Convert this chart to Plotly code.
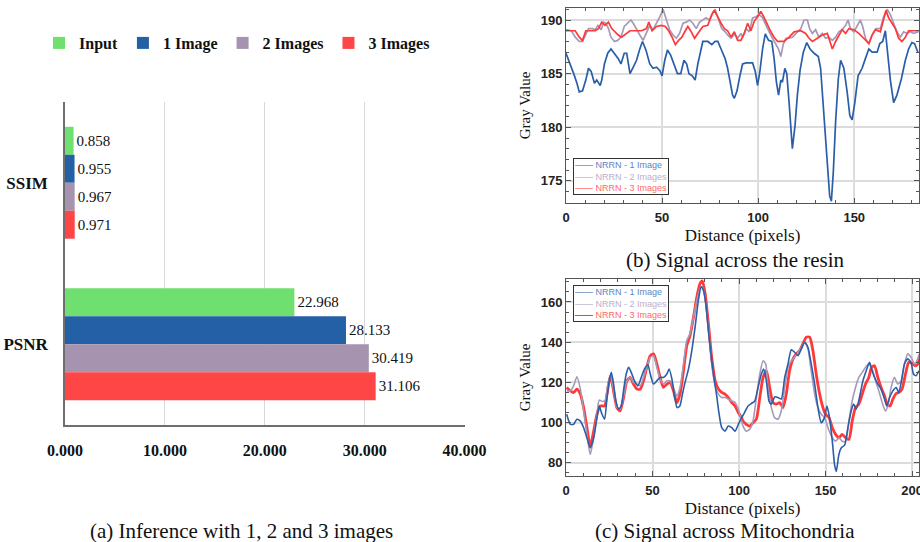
import plotly.graph_objects as go

# ---------------- (a) bar chart data ----------------
CATEGORIES = ["SSIM", "PSNR"]
SERIES = ["Input", "1 Image", "2 Images", "3 Images"]
SSIM_VALUES = [0.858, 0.955, 0.967, 0.971]
PSNR_VALUES = [22.968, 28.133, 30.419, 31.106]
BAR_COLORS = ["#6fdf6f", "#2360a5", "#a593b0", "#ff4646"]
BAR_X_TICKS = [0, 10, 20, 30, 40]

# ---------------- (b) signal across the resin ----------------
B1_X = [0, 2.2, 4, 5.7, 6.9, 8.6, 10.3, 11.7, 13.1, 14.8, 16, 17.8, 18.6, 20, 21.7, 23.4, 25.2, 27.2, 28.6,
        30.3, 31.6, 33.3, 35, 36.7, 38.4, 39.8, 41.6, 43.6, 45.3, 47.1, 48.8, 50, 51.4, 52.8, 54.5, 56.2,
        58, 59.7, 61.4, 62.8, 64, 65.7, 67.2, 68.6, 70.3, 71.2, 73.8, 75.9, 77.6, 79, 80.7, 82.8, 84.1,
        85.5, 86.7, 87.6, 89, 90.5, 91.9, 93.7, 97.1, 98.5, 99.7, 100.9, 102.3, 103.7, 105.4, 107.1,
        108.3, 109.5, 110.6, 111.8, 112.6, 113.9, 114.9, 116.1, 117, 117.8, 119.2, 120.4, 121.8, 123.5,
        125.3, 127, 129.1, 131.3, 132.5, 133.4, 134.8, 136, 137.2, 138.1, 139.1, 140.3, 141.7, 142.9,
        144.6, 146.3, 147.7, 148.9, 150.3, 152, 154.1, 155.8, 157.6, 159.3, 161.9, 163.3, 164.8, 166.2,
        167.6, 168.8, 170.5, 172.2, 174.5, 176.6, 178.3, 180, 181.4, 183.1]
B1_Y = [186.9, 185.9, 185, 184.1, 183.3, 183.4, 184.4, 185.5, 185.2, 184.1, 184.4, 183.9, 184.4, 185.9, 186.9,
        187.3, 186.9, 186.4, 185.9, 186.9, 186.9, 185, 185.6, 186.25, 187.3, 188, 187.2, 185.9, 185.5, 185.6,
        185.3, 184.8, 186.25, 187.2, 186.7, 185.9, 185, 185, 186.25, 185.9, 185, 184.8, 184.4, 185.9, 187.2,
        188, 188, 187.7, 188, 188, 187.3, 186.4, 185.5, 184.1, 183, 182.7, 183.4, 184.8, 185.9, 186, 186,
        185.2, 183.9, 185.2, 187.3, 188.7, 188.1, 188, 186.4, 184.2, 183, 184.4, 184.2, 185.5, 185, 182.3,
        179.5, 178, 180.2, 183, 185.3, 187, 187.9, 187.3, 186.9, 186.6, 185.5, 183.3, 179.5, 176.4, 173.6,
        173.1, 175.8, 180.5, 184.5, 186.25, 185.5, 183.3, 181.1, 180.7, 182.3, 184.8, 185.5, 186.4, 187.3,
        187, 187, 187.8, 188, 189, 186.7, 184.4, 182.3, 183, 184.5, 186.25, 187.3, 187.9, 187.8, 187]

B2_X = [0, 2.8, 4.8, 6.9, 8.6, 10.3, 11.7, 13.8, 15.2, 16.6, 18.3, 19.5, 20.7, 22.1, 23.4, 25.2, 26.9, 28.6,
        30.3, 32.1, 33.8, 35, 36.7, 38.4, 40.1, 41.9, 43.6, 45.3, 47.1, 48.8, 50.5, 52.2, 53.9, 55.7, 57.4,
        59.1, 60.9, 62.6, 64.3, 66, 67.8, 69.5, 71.2, 72.9, 74.6, 76.4, 77.6, 79.3, 81, 82.8, 84.1, 85.9,
        87.6, 89.3, 91, 91.9, 93.7, 95.4, 97.1, 98.8, 100.6, 102.3, 104, 105.7, 107.5, 109.2, 110.6, 111.8,
        113, 114.4, 116.1, 117.8, 119.6, 122.2, 123.9, 125.6, 126.8, 128.2, 129.9, 131.6, 133.4, 135.1,
        136.8, 138.6, 140.3, 142, 143.7, 145.5, 146.8, 148, 149.8, 151.5, 153.2, 154.4, 155.8, 157.6, 159.3,
        161.4, 163.6, 165.3, 167.1, 168.8, 170.5, 172.2, 174, 175.7, 177.4, 179.1, 180.9, 183.5]
B2_Y = [189.1, 189, 188.4, 188, 188, 188.75, 189.2, 189.2, 189.1, 189.5, 189.1, 189.8, 189.7, 189.2, 188.4,
        188, 188.1, 188.4, 189.4, 189.7, 190, 189.7, 189.1, 188.6, 188.1, 188.9, 189.5, 189.1, 189.7, 190.3,
        191, 190, 189.1, 188.6, 188.3, 188.75, 189.7, 189.8, 190, 189.7, 189.2, 189.8, 190, 190.2, 190,
        190.7, 191, 190, 189.2, 188.9, 188.6, 188.3, 188.7, 188.3, 188.75, 188.4, 189.2, 188.9, 190.2,
        190.3, 190.5, 190.2, 189.5, 188.9, 188.3, 187.7, 187.3, 186.6, 187.7, 188.3, 188.3, 188.4, 188.75,
        189.2, 190, 190, 189.2, 188.75, 189.1, 188.4, 188.75, 188.3, 188.4, 188.1, 188.4, 188.9, 189.1,
        189.5, 190, 189.2, 188.9, 189.5, 190, 189.4, 188.3, 187.8, 188.6, 189.2, 189.2, 190.3, 191, 190.5,
        189.7, 188.9, 188.4, 188.9, 188.75, 188.9, 188.75, 188.9]

B3_X = [0, 4.8, 6.9, 8.6, 10.3, 15.2, 16.9, 18.6, 20.3, 22.1, 23.8, 25.5, 27.2, 28.9, 31.6, 33.3, 39.3, 41.9,
        43.1, 44.8, 47.1, 49.7, 51.7, 53.4, 55.2, 56.9, 58.6, 60.3, 62.1, 63.4, 65.2, 66.9, 68.6, 71.2,
        73.8, 75.9, 77.2, 79, 80.7, 82.4, 84.1, 85.9, 87.6, 89.3, 91, 92.8, 94.5, 96.2, 98, 99.7, 101.4,
        103.2, 104.9, 106.6, 108.3, 110.1, 113.5, 116.1, 118.7, 122.2, 124.7, 126.5, 128.2, 130.8, 133.4,
        136, 138.6, 140.3, 142, 143.7, 145.5, 147.2, 149.8, 152.4, 154.9, 157.6, 159.3, 161, 163.6, 165.3,
        166.5, 167.9, 169.6, 171.4, 173.1, 174.8, 176.6, 178.3, 183.5]
B3_Y = [189, 189, 188.4, 188.1, 189, 189, 189.2, 189.8, 189.5, 189.8, 189.2, 188.9, 188.6, 188.4, 188.75,
        189, 189, 189.2, 189.8, 189, 189.4, 189.5, 189.4, 189, 188.4, 187.7, 188.1, 188.4, 189, 189.4,
        188.9, 188.3, 188.75, 189.4, 189.5, 190.5, 190.9, 190.2, 189.7, 189.2, 189, 188.4, 188.9, 188.1,
        188.1, 188.75, 189.7, 189, 189.9, 190.3, 190.8, 190.2, 189.5, 188.9, 188.4, 188, 188, 188.4, 188.9,
        189, 188.75, 188.3, 188, 188.3, 188.6, 188.75, 187.3, 188, 188.6, 189.1, 188.75, 189.2, 189.1,
        188.75, 188.3, 187.8, 188.6, 189.1, 188.9, 190.2, 190.9, 190.2, 189.7, 189.2, 188.3, 188, 188.4,
        189, 189]

# ---------------- (c) signal across mitochondria ----------------
C1_X = [0.4, 2.5, 4.4, 6.3, 8.3, 10.2, 12.1, 14, 16, 17.9, 19.2, 20.8, 22.3, 23.7, 25, 26.2, 27.5, 28.8, 30.4,
        31.9, 33.5, 34.8, 36.2, 37.7, 39.6, 41.5, 43.5, 45.4, 47.3, 48.7, 50.6, 52.5, 54.4, 56.3, 58.3, 59.6,
        61.2, 62.7, 64.2, 65.8, 67.3, 68.8, 70.8, 72.7, 74.6, 76.5, 78.1, 79.4, 80.8, 82.3, 84.2, 85.8, 87.1,
        88.5, 90, 91.9, 93.8, 95.8, 97.7, 99.6, 101.5, 102.7, 105.2, 107.1, 109.1, 111, 112.9, 114.2, 115.8,
        117.3, 118.7, 120.6, 122.5, 124.4, 126.4, 128.3, 130.2, 132.1, 134.1, 136, 137.9, 139.8, 141.7,
        143.7, 145.6, 147.5, 149.4, 150.8, 152.3, 153.9, 155.2, 156.2, 157.7, 159.1, 161, 162.9, 164.8,
        166.2, 167.7, 169.6, 171.6, 173.5, 175.4, 176.9, 178.3, 180.2, 182.1, 184.1, 185.4, 187, 188.9,
        190.8, 192.3, 193.9, 195.6, 197.5, 199.4, 200.8, 202.3, 203.9]
C1_Y = [104.2, 99.2, 99.2, 101.7, 100.8, 97.5, 92.5, 87.5, 92.5, 102.5, 108.3, 104.2, 101.7, 112.5, 120.8, 125,
        119.2, 110.8, 106.7, 108.3, 117.5, 124.2, 127.5, 125, 120.8, 118.3, 122.5, 126.7, 128.8, 124.2, 119.2,
        120.8, 122.5, 122.5, 124.2, 126.7, 121.7, 113.3, 107.5, 108.3, 114.2, 120, 126.7, 135.8, 147.5, 160.8,
        167.5, 165.8, 159.2, 145.8, 130.8, 120.8, 113.3, 104.2, 97.5, 95.8, 98.3, 97.5, 95.8, 99.2, 102.5,
        104.2, 108.3, 109.5, 110.8, 117.5, 124.2, 126.7, 120.8, 110.8, 109.2, 112.8, 112.5, 111.7, 122.5,
        129.2, 136.2, 135, 133.3, 136.7, 140, 137.5, 129.2, 119.2, 107.5, 100, 102.5, 108.3, 102.5, 90.8,
        79.2, 75.8, 84.2, 87.5, 88.8, 97.5, 105.8, 109.2, 106.7, 112.5, 120.8, 125.8, 130, 125.8, 122.5,
        119.2, 116.7, 111.7, 108.3, 112.5, 115.8, 117.5, 115, 120.8, 129.2, 131.7, 130, 124.2, 123.3, 125.8]

C2_X = [0.4, 2.5, 4.4, 6.3, 8.3, 10.2, 12.1, 14, 16, 17.9, 19.2, 21.2, 22.7, 24.2, 25.6, 27.5, 29.4, 31.3,
        33.3, 35.2, 37.1, 39, 41, 42.9, 44.8, 46.7, 48.7, 50.6, 52.5, 54.4, 56.3, 58.3, 60.2, 62.1, 64,
        65.9, 67.9, 69.8, 71.7, 73.7, 75.6, 77.5, 78.8, 80.4, 82.3, 84.2, 86.2, 88.1, 90, 91.9, 93.8, 95.8,
        97.7, 99.6, 101.5, 102.3, 104.2, 106.2, 108.1, 110, 112, 113.9, 115.4, 116.7, 118.7, 120.6, 122.5,
        124.4, 126.4, 128.3, 130.2, 132.1, 134.1, 136, 137.9, 139.8, 141.7, 143.7, 145.6, 147.5, 149.4,
        151.4, 153.9, 155.8, 157.7, 159.6, 161.6, 163.5, 165.4, 167.3, 169.2, 171.2, 173.1, 175, 176.9,
        178.9, 180.8, 182.7, 184.6, 186.2, 187.9, 189.8, 191.7, 193.7, 195.6, 197.5, 199.4, 201.4, 203.3, 204.2]
C2_Y = [115.8, 115.8, 118.3, 122.8, 116.7, 105.8, 94.2, 84.2, 92.5, 104.2, 111.2, 110.5, 111.2, 119.2, 123.3,
        116.7, 107.5, 106.7, 113.3, 120.8, 122.5, 120, 119.2, 118.3, 122.5, 127.5, 132.5, 133.3, 127.5, 121.7,
        119.2, 120.8, 120.8, 117.5, 113.3, 117.5, 129.2, 140.8, 144.2, 152.5, 160.8, 166.7, 167.5, 161.7,
        147.5, 129.2, 118.3, 114.2, 112.5, 112.5, 111.7, 110.8, 110, 106.7, 100.8, 98.3, 95.8, 96.7, 100.8,
        112.5, 124.2, 130.8, 129.2, 117.5, 107.5, 102.5, 101.7, 105.8, 117.5, 127.5, 130.8, 132.5, 135,
        137.5, 140, 136.7, 125.8, 114.2, 107.5, 104.2, 102.5, 97.5, 92.5, 90.8, 92.5, 90.8, 90.8, 100.8,
        110.8, 117.5, 122.5, 125, 127.5, 129.2, 126.7, 120.8, 115.8, 110, 105.8, 109.2, 117.5, 122.5, 119.2,
        120.8, 129.2, 134.2, 132.5, 129.2, 131.7, 134.2]

C3_X = [0.4, 2.5, 4.4, 6.3, 8.3, 10.2, 12.1, 14, 16, 17.9, 19.8, 22.3, 23.7, 25.6, 27.5, 29.4, 31.3, 33.3,
        35.2, 37.1, 39, 41, 42.9, 44.8, 46.7, 48.7, 50.6, 52.5, 54.4, 56.3, 58.3, 60.2, 62.1, 64, 65.9,
        67.9, 69.8, 71.7, 73.7, 75.6, 77.5, 78.8, 80.4, 82.3, 84.2, 86.2, 88.1, 90, 91.9, 93.8, 95.8, 97.7,
        99.6, 101.5, 102.3, 104.2, 106.2, 108.1, 110, 112, 113.9, 115.8, 117.7, 119.6, 121.6, 123.5, 125.4,
        127.3, 129.2, 131.2, 133.1, 135, 136.9, 138.9, 140.8, 142.7, 144.6, 146.6, 148.5, 150, 152, 153.9,
        155.8, 157.7, 159.6, 161.6, 163.5, 165.4, 167.3, 169.2, 171.2, 173.1, 175, 176.6, 178.3, 180.2,
        182.1, 184.1, 185.6, 187.3, 188.9, 190.8, 192.3, 194.2, 196.2, 198.1, 200, 201.9, 203.3, 204.2]
C3_Y = [117.5, 115.8, 115, 116.7, 114.2, 107.5, 97.5, 88.3, 95.8, 104.2, 108.3, 108.3, 114.2, 123.3, 115.8,
        107.5, 105.8, 112.5, 120.8, 122.5, 119.2, 116.7, 116.7, 120.8, 127.5, 133.3, 134.2, 129.2, 122.5,
        117.5, 119.2, 120, 115.8, 110, 114.2, 125.8, 138.3, 143.3, 152.5, 162.5, 169.2, 170.5, 164.2, 149.2,
        132.5, 120.8, 116.7, 115, 114.2, 112.5, 110, 108.3, 105, 102.5, 100.8, 99.2, 98.3, 100, 101.7, 112.5,
        122.5, 125.8, 117.5, 110, 109.2, 110, 107.5, 114.2, 125.8, 131.7, 134.2, 135.8, 139.2, 142.5, 142.5,
        135.8, 124.2, 114.2, 107.5, 104.2, 102.5, 97.5, 94.2, 92.5, 94.2, 92.5, 91.7, 100.8, 107.5, 109.2,
        114.2, 119.2, 122.5, 127.5, 128.3, 122.5, 117.5, 113.3, 109.2, 108.3, 111.7, 114.5, 115, 116.7,
        124.2, 130, 129.5, 128.3, 129.2, 133.3, 138.3]

LINE_NAMES = ["NRRN - 1 Image", "NRRN - 2 Images", "NRRN - 3 Images"]
LINE_COLORS = ["#2b5ea8", "#a898b8", "#ff3838"]
LEGEND_TEXT_COLORS = ["#5a86c4", "#bcaecb", "#ff6a6a"]

W, H = 920, 542
SERIF = "Liberation Serif"
SANS = "Liberation Sans"


def px(x):
    return x / W


def py(y):
    return 1 - y / H


fig = go.Figure()

# (a) bars
for name, s, p, c in zip(SERIES, SSIM_VALUES, PSNR_VALUES, BAR_COLORS):
    fig.add_trace(go.Bar(
        y=CATEGORIES, x=[s, p], orientation="h", name=name,
        marker=dict(color=c, line=dict(width=0)),
        texttemplate="%{x:.3f}", textposition="outside",
        textfont=dict(family=SERIF, size=15, color="#111"),
        cliponaxis=False, xaxis="x", yaxis="y",
    ))

# (b) lines
for xs, ys, n, c in zip([B1_X, B2_X, B3_X], [B1_Y, B2_Y, B3_Y], LINE_NAMES, LINE_COLORS):
    fig.add_trace(go.Scatter(x=xs, y=ys, mode="lines", name=n, showlegend=False,
                             line=dict(color=c, width=1.7), xaxis="x2", yaxis="y2"))

# (c) lines (red drawn first, thicker)
c_data = list(zip([C1_X, C2_X, C3_X], [C1_Y, C2_Y, C3_Y], LINE_NAMES, LINE_COLORS, [1.6, 1.6, 2.8]))
for xs, ys, n, c, w in reversed(c_data):
    fig.add_trace(go.Scatter(x=xs, y=ys, mode="lines", name=n, showlegend=False,
                             line=dict(color=c, width=w, shape="spline", smoothing=0.6),
                             xaxis="x3", yaxis="y3"))

line_axis_common = dict(
    showline=True, linecolor="#555", linewidth=1, mirror="ticks",
    ticks="inside", ticklen=5, tickcolor="#555", automargin=False,
    showgrid=True, gridcolor="#dcdcdc", gridwidth=1.5, zeroline=False,
    ticklabeloverflow="allow",
    tickfont=dict(family=SANS, size=13, color="#222", weight="bold"),
)
x_title_font = dict(family=SERIF, size=17, color="#111")
y_title_font = dict(family=SERIF, size=15, color="#111")

fig.update_layout(
    width=W, height=H, autosize=False,
    margin=dict(l=0, r=0, t=0, b=0, autoexpand=False),
    paper_bgcolor="white", plot_bgcolor="white",
    barmode="group", bargap=0.307, bargroupgap=0,
    showlegend=True,
    legend=dict(orientation="h", x=px(39), y=py(43), xanchor="left", yanchor="middle",
                font=dict(family=SERIF, size=16, color="#111", weight="bold"),
                bgcolor="rgba(0,0,0,0)"),
    xaxis=dict(domain=[px(65), px(465)], range=[0, 40.05], tickvals=BAR_X_TICKS,
               tickformat=".3f", showgrid=True, gridcolor="#d8d8d8", gridwidth=1,
               showline=True, linecolor="#6e6e6e", linewidth=1.5, zeroline=False,
               ticks="", ticklabelstandoff=10, anchor="y", automargin=False,
               tickfont=dict(family=SERIF, size=16, color="#111", weight="bold")),
    yaxis=dict(domain=[py(425), py(102)], categoryorder="array", categoryarray=CATEGORIES,
               autorange="reversed", showline=True, linecolor="#6e6e6e", linewidth=1.5,
               showgrid=False, ticks="", ticklabelstandoff=12, anchor="x", automargin=False,
               tickfont=dict(family=SERIF, size=17, color="#111", weight="bold")),
    xaxis2=dict(domain=[px(566), px(919)], range=[0, 183.7], dtick=50, anchor="y2",
                minor=dict(dtick=10, ticks="inside", ticklen=3, tickcolor="#555", showgrid=False),
                title=dict(text="Distance (pixels)", standoff=5, font=x_title_font),
                ticklabelstandoff=2, **line_axis_common),
    yaxis2=dict(domain=[py(203), py(8)], range=[172.94, 191.12], dtick=5, anchor="x2",
                minor=dict(dtick=1, ticks="inside", ticklen=3, tickcolor="#555", showgrid=False),
                title=dict(text="Gray Value", standoff=6, font=y_title_font),
                **line_axis_common),
    xaxis3=dict(domain=[px(566), px(919)], range=[0, 204], dtick=50, anchor="y3",
                minor=dict(dtick=10, ticks="inside", ticklen=3, tickcolor="#555", showgrid=False),
                title=dict(text="Distance (pixels)", standoff=5, font=x_title_font),
                ticklabelstandoff=2, **line_axis_common),
    yaxis3=dict(domain=[py(476), py(279)], range=[73.5, 171.4], dtick=20, anchor="x3",
                minor=dict(dtick=5, ticks="inside", ticklen=3, tickcolor="#555", showgrid=False),
                title=dict(text="Gray Value", standoff=6, font=y_title_font),
                **line_axis_common),
)


def legend_box_text(bold_last):
    rows = []
    for i, (n, lc, tc) in enumerate(zip(LINE_NAMES, LINE_COLORS, LEGEND_TEXT_COLORS)):
        dash = "——"
        if bold_last and i == 2:
            dash = "<b>——</b>"
        rows.append(f'<span style="color:{lc}">{dash}</span> <span style="color:{tc}">{n}</span>')
    return "<br>".join(rows)


caption_font = dict(family=SERIF, size=21, color="#111")
annotations = [
    dict(text=legend_box_text(False), x=px(573), y=py(158), xref="paper", yref="paper",
         xanchor="left", yanchor="top", align="left", showarrow=False,
         font=dict(family=SANS, size=9), bgcolor="white", bordercolor="#333",
         borderwidth=1, borderpad=1),
    dict(text=legend_box_text(True), x=px(573), y=py(285), xref="paper", yref="paper",
         xanchor="left", yanchor="top", align="left", showarrow=False,
         font=dict(family=SANS, size=9), bgcolor="white", bordercolor="#333",
         borderwidth=1, borderpad=1),
    dict(text="(a) Inference with 1, 2 and 3 images", x=px(242), y=py(531), xref="paper", yref="paper",
         xanchor="center", yanchor="middle", showarrow=False, font=caption_font),
    dict(text="(b) Signal across the resin", x=px(735), y=py(260), xref="paper", yref="paper",
         xanchor="center", yanchor="middle", showarrow=False, font=caption_font),
    dict(text="(c) Signal across Mitochondria", x=px(725), y=py(531), xref="paper", yref="paper",
         xanchor="center", yanchor="middle", showarrow=False, font=caption_font),
]
fig.update_layout(annotations=annotations)

fig.write_html("out.html", config={"displayModeBar": False},
               post_script="document.body.style.margin='0';document.body.style.overflow='hidden';")
